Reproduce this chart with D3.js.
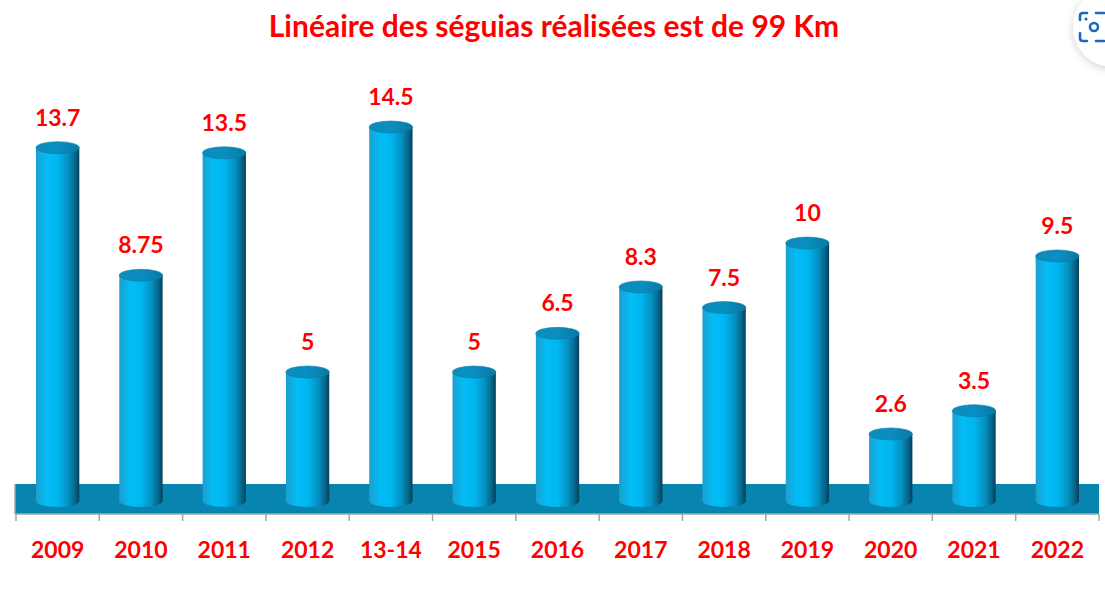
<!DOCTYPE html>
<html>
<head>
<meta charset="utf-8">
<script src="https://cdn.jsdelivr.net/npm/d3@7"></script>
<style>
  body { margin: 0; background: #fff; }
  svg { display: block; }
</style>
</head>
<body>
<div id="chart"></div>
<script>
// data
var years = ["2009", "2010", "2011", "2012", "13-14", "2015", "2016", "2017", "2018", "2019", "2020", "2021", "2022"];
var values = [13.7, 8.75, 13.5, 5, 14.5, 5, 6.5, 8.3, 7.5, 10, 2.6, 3.5, 9.5];
var valueLabels = ["13.7", "8.75", "13.5", "5", "14.5", "5", "6.5", "8.3", "7.5", "10", "2.6", "3.5", "9.5"];
var title = "Linéaire des séguias réalisées est de 99 Km";

var W = 1105, H = 595;
var red = "#ff0000";
var font = "Lato, 'Open Sans', sans-serif";

var svg = d3.select("#chart")
    .append("svg")
    .attr("width", W)
    .attr("height", H);

var defs = svg.append("defs");

var body = defs.append("linearGradient")
    .attr("id", "body")
    .attr("x1", "0").attr("x2", "1").attr("y1", "0").attr("y2", "0");
[[0, "#1c9fcf"], [0.25, "#03bcf6"], [0.5, "#00b6f0"], [0.75, "#0590c0"], [0.9, "#06668c"], [1, "#053f57"]]
    .forEach(function (s) { body.append("stop").attr("offset", s[0]).attr("stop-color", s[1]); });

var topG = defs.append("linearGradient")
    .attr("id", "top")
    .attr("x1", "0").attr("x2", "1").attr("y1", "0").attr("y2", "0");
[[0, "#0b8cbc"], [0.5, "#0a8ec0"], [1, "#077aa6"]]
    .forEach(function (s) { topG.append("stop").attr("offset", s[0]).attr("stop-color", s[1]); });

var shadow = defs.append("filter").attr("id", "shadow")
    .attr("x", "-50%").attr("y", "-50%").attr("width", "200%").attr("height", "200%");
shadow.append("feDropShadow").attr("dx", 0).attr("dy", 2).attr("stdDeviation", 4)
    .attr("flood-color", "#000").attr("flood-opacity", 0.18);

var x = d3.scaleBand()
    .domain(years)
    .range([16, 1099])
    .paddingInner(0.48)
    .paddingOuter(0.24);

var y = d3.scaleLinear()
    .domain([0, 14.5])
    .range([501, 127]);

// title
svg.append("text")
    .attr("x", 554)
    .attr("y", 37)
    .attr("text-anchor", "middle")
    .attr("fill", red)
    .style("font-family", font)
    .style("font-weight", "bold")
    .style("font-size", "30px")
    .text(title);

// floor
var floorTop = 484, floorBottom = 514;
svg.append("rect")
    .attr("x", 15)
    .attr("y", floorTop)
    .attr("width", 1099 - 15)
    .attr("height", floorBottom - floorTop)
    .attr("fill", "#0884b1");
svg.append("line")
    .attr("x1", 15).attr("x2", 15)
    .attr("y1", floorTop).attr("y2", floorBottom)
    .attr("stroke", "#9aa4aa").attr("stroke-width", 1.5);

// axis with ticks on category boundaries
var axis = svg.append("g")
    .attr("transform", "translate(0," + floorBottom + ")");
axis.append("line")
    .attr("x1", 15).attr("x2", 1099)
    .attr("stroke", "#a6a6a6").attr("stroke-width", 1.5);
var bounds = years.map(function (d) { return x(d) - x.step() * x.paddingOuter(); });
bounds.push(x.range()[1]);
axis.selectAll(".tick")
    .data(bounds)
    .enter()
    .append("line")
    .attr("class", "tick")
    .attr("x1", function (d) { return d; })
    .attr("x2", function (d) { return d; })
    .attr("y1", 0).attr("y2", 7)
    .attr("stroke", "#a6a6a6").attr("stroke-width", 1.5);

axis.selectAll(".lbl")
    .data(years)
    .enter()
    .append("text")
    .attr("class", "lbl")
    .attr("x", function (d) { return x(d) + x.bandwidth() / 2; })
    .attr("y", 44)
    .attr("text-anchor", "middle")
    .attr("fill", red)
    .style("font-family", font)
    .style("font-weight", "bold")
    .style("font-size", "23px")
    .text(function (d) { return d; });

// cylinders
var ry = 6;
var rows = years.map(function (d, i) { return { year: d, v: values[i], label: valueLabels[i] }; });

var cyl = svg.selectAll(".cyl")
    .data(rows)
    .enter()
    .append("g")
    .attr("class", "cyl");

cyl.append("path")
    .attr("d", function (d) {
        var x0 = x(d.year), x1 = x0 + x.bandwidth(), rx = x.bandwidth() / 2;
        var yt = y(d.v), yb = y(0);
        return "M" + x0 + "," + yt + "L" + x0 + "," + yb +
            "A" + rx + "," + ry + " 0 0 0 " + x1 + "," + yb +
            "L" + x1 + "," + yt + "Z";
    })
    .attr("fill", "url(#body)");

cyl.append("ellipse")
    .attr("cx", function (d) { return x(d.year) + x.bandwidth() / 2; })
    .attr("cy", function (d) { return y(d.v); })
    .attr("rx", x.bandwidth() / 2)
    .attr("ry", ry)
    .attr("fill", "url(#top)")
    .attr("stroke", "#0a7aa5")
    .attr("stroke-width", 0.6);

cyl.append("text")
    .attr("x", function (d) { return x(d.year) + x.bandwidth() / 2; })
    .attr("y", function (d) { return y(d.v) - 22; })
    .attr("text-anchor", "middle")
    .attr("fill", red)
    .style("font-family", font)
    .style("font-weight", "bold")
    .style("font-size", "23px")
    .text(function (d) { return d.label; });

// lens button overlay in the top right corner
var lens = svg.append("g");
lens.append("circle")
    .attr("cx", 1113).attr("cy", 27).attr("r", 40)
    .attr("fill", "#fff")
    .attr("filter", "url(#shadow)");
var ic = lens.append("g")
    .attr("fill", "none")
    .attr("stroke", "#1a67c4")
    .attr("stroke-width", 2.6)
    .attr("stroke-linecap", "round");
ic.append("path").attr("d", "M1080,20 V16 Q1080,13 1083,13 H1087");
ic.append("path").attr("d", "M1080,33 V38 Q1080,41 1083,41 H1087");
ic.append("path").attr("d", "M1096,13 H1104");
ic.append("path").attr("d", "M1096,41 H1104");
ic.append("circle").attr("cx", 1094).attr("cy", 27).attr("r", 4);
lens.append("circle").attr("cx", 1086).attr("cy", 19).attr("r", 1.6).attr("fill", "#1a67c4");
</script>
</body>
</html>
